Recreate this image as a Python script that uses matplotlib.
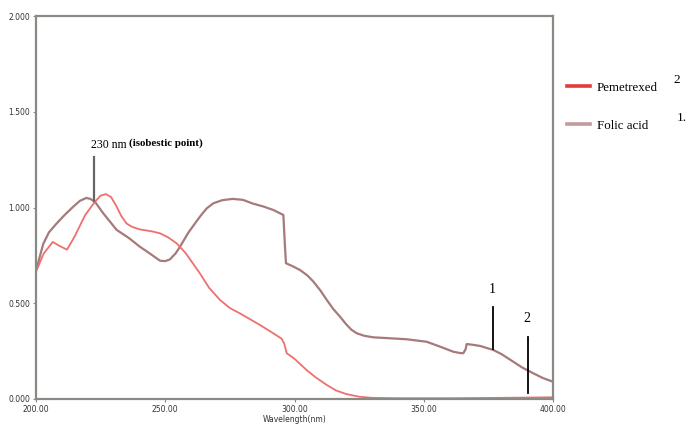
import matplotlib
matplotlib.use("Agg")
import matplotlib.pyplot as plt
from matplotlib.lines import Line2D

# Pemetrexed spectrum (red)
pem_nm = [200, 203, 206.5, 209, 212, 215, 219, 222.8, 225, 227, 229, 231, 233, 235,
          237, 240, 245, 248, 251, 254.4, 258, 263.4, 267, 271.2, 275, 278.9, 283,
          286.7, 291, 295, 296, 297, 300, 304.7, 308, 312.5, 316, 320, 325, 330, 340,
          360, 380, 400]
pem_abs = [0.665, 0.76, 0.82, 0.80, 0.78, 0.85, 0.96, 1.03, 1.062, 1.07, 1.055, 1.01,
           0.955, 0.917, 0.9, 0.886, 0.875, 0.865, 0.845, 0.813, 0.76, 0.656, 0.58,
           0.517, 0.475, 0.447, 0.415, 0.386, 0.35, 0.315, 0.29, 0.239, 0.21, 0.151,
           0.115, 0.073, 0.045, 0.026, 0.012, 0.006, 0.004, 0.004, 0.006, 0.009]

# Folic acid spectrum (brown)
fol_nm = [200, 202.8, 205, 208, 211, 214.4, 217, 219.5, 221, 222.8, 226, 231.2, 236,
          240.2, 244, 248, 250, 251.8, 254, 255.7, 259, 263.4, 266, 268.6, 272, 276,
          280, 284, 288, 291.8, 295.7, 296.3, 296.7, 299, 302.1, 305, 307.3, 310,
          312.5, 315, 317.6, 320, 322, 324.1, 327, 330.5, 337, 343.4, 351.1, 356,
          361.4, 364, 365.3, 366.2, 366.6, 369, 371.8, 376.9, 380, 384.6, 388, 392.4,
          396, 400]
fol_abs = [0.67, 0.81, 0.87, 0.917, 0.96, 1.004, 1.035, 1.05, 1.045, 1.03, 0.97, 0.883,
           0.84, 0.795, 0.76, 0.722, 0.72, 0.729, 0.76, 0.795, 0.87, 0.952, 0.995, 1.022,
           1.038, 1.045, 1.04, 1.02, 1.005, 0.987, 0.961, 0.80, 0.709, 0.695, 0.674,
           0.645, 0.613, 0.567, 0.517, 0.47, 0.43, 0.39, 0.362, 0.343, 0.33, 0.322,
           0.317, 0.312, 0.299, 0.275, 0.247, 0.24, 0.239, 0.26, 0.287, 0.283, 0.277,
           0.256, 0.235, 0.195, 0.165, 0.134, 0.11, 0.09]

x_ticks = [200, 250, 300, 350, 400]
x_labels = ["200.00", "250.00", "300.00", "350.00", "400.00"]
y_ticks = [0, 0.5, 1.0, 1.5, 2.0]
y_labels = ["0.000", "0.500", "1.000", "1.500", "2.000"]

red = "#ef6f6f"
brown = "#a67a7a"
serif = "Liberation Serif"

fig = plt.figure(figsize=(6.88, 4.25), dpi=100)
ax = fig.add_axes([36 / 688, 1 - 399 / 425, 517 / 688, 383 / 425])

ax.plot(fol_nm, fol_abs, color=brown, lw=1.6)
ax.plot(pem_nm, pem_abs, color=red, lw=1.3)

ax.set_xlim(200, 400)
ax.set_ylim(0, 2.0)
ax.set_xticks(x_ticks)
ax.set_xticklabels(x_labels)
ax.set_yticks(y_ticks)
ax.set_yticklabels(y_labels)
ax.tick_params(labelsize=5.5, length=2, color="#888888", labelcolor="#333333", pad=2)
for s in ax.spines.values():
    s.set_color("#8a8a84")
    s.set_linewidth(1.6)
ax.set_xlabel("Wavelength(nm)", fontsize=5.5, color="#333333", labelpad=1)

# isobestic point marker
ax.plot([222.6, 222.6], [1.265, 1.034], color="#666666", lw=1.6)
ax.text(221.2, 1.326, "230 nm", fontsize=8.5, family=serif, va="center", ha="left")
ax.text(236.0, 1.335, "(isobestic point)", fontsize=7.8, family=serif,
        fontweight="bold", va="center", ha="left")

# peak markers 1 and 2
ax.plot([376.9, 376.9], [0.479, 0.259], color="black", lw=1.3)
ax.text(376.3, 0.571, "1", fontsize=10, family=serif, ha="center", va="center")
ax.plot([390.2, 390.2], [0.325, 0.033], color="black", lw=1.3)
ax.text(390.0, 0.421, "2", fontsize=10, family=serif, ha="center", va="center")

# legend outside on the right
handles = [Line2D([], [], color="#e53a3a", lw=2.6),
           Line2D([], [], color="#c49a9a", lw=2.6)]
fig.legend(handles, ["Pemetrexed", "Folic acid"], loc="upper left",
           bbox_to_anchor=(555 / 688, 1 - 70 / 425), frameon=False,
           handlelength=1.8, handletextpad=0.55, labelspacing=2.0,
           prop={"family": serif, "size": 9.3})
fig.text(673 / 688, 1 - 80 / 425, "2", fontsize=9.5, family=serif, va="center")
fig.text(677 / 688, 1 - 118 / 425, "1.", fontsize=9.5, family=serif, va="center")

fig.savefig("out.png", dpi=100)
